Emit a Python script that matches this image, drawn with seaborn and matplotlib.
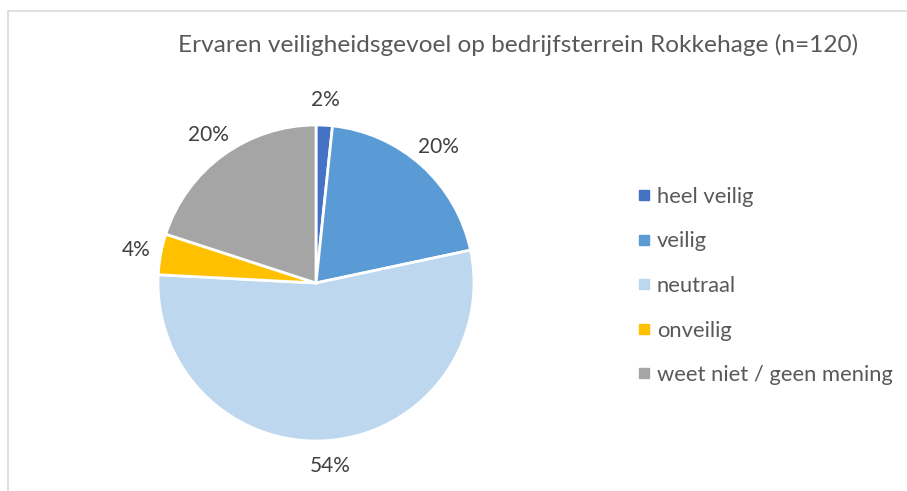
import matplotlib
matplotlib.use("Agg")
import matplotlib.pyplot as plt
import seaborn as sns
from matplotlib.lines import Line2D

categories = ["heel veilig", "veilig", "neutraal", "onveilig", "weet niet / geen mening"]
counts = [2, 24, 65, 5, 24]
colors = ["#4472C4", "#5B9BD5", "#BDD7EE", "#FFC000", "#A5A5A5"]
title = "Ervaren veiligheidsgevoel op bedrijfsterrein Rokkehage (n=120)"

sns.set_theme(style="white")
plt.rcParams["font.family"] = ["Lato", "DejaVu Sans"]

W, H, DPI = 907, 491, 100
fig = plt.figure(figsize=(W / DPI, H / DPI), dpi=DPI)

# pie centre and radius in pixels
cx, cy, r = 316, 283, 158
half = r * 1.3
ax = fig.add_axes([(cx - half) / W, (H - cy - half) / H, 2 * half / W, 2 * half / H])

wedges, _, autotexts = ax.pie(
    counts,
    colors=colors,
    startangle=90,
    counterclock=False,
    autopct=lambda p: f"{p:.0f}%",
    pctdistance=1.16,
    wedgeprops=dict(edgecolor="white", linewidth=2),
    textprops=dict(color="#404040", fontsize=15),
)
ax.set_xlim(-1.3, 1.3)
ax.set_ylim(-1.3, 1.3)
ax.set_aspect("equal")
ax.axis("off")

fig.text(518 / W, 1 - 45 / H, title, ha="center", va="center", fontsize=17.6, color="#595959")

handles = [Line2D([0], [0], marker="s", linestyle="", markersize=6.5,
                  markerfacecolor=c, markeredgecolor=c) for c in colors]
leg = fig.legend(handles, categories, loc="upper left",
                 bbox_to_anchor=(625 / W, 1 - 178 / H), frameon=False,
                 fontsize=15.8, labelspacing=1.12, handletextpad=0.15,
                 handlelength=0.9, borderaxespad=0)
for t in leg.get_texts():
    t.set_color("#595959")

# chart area border (top and left visible)
fig.add_artist(Line2D([8 / W, 1.0], [1 - 11 / H, 1 - 11 / H], color="#D9D9D9", linewidth=1.2,
                      transform=fig.transFigure))
fig.add_artist(Line2D([8 / W, 8 / W], [0, 1 - 11 / H], color="#D9D9D9", linewidth=1.2,
                      transform=fig.transFigure))

fig.savefig("out.png", dpi=DPI)
